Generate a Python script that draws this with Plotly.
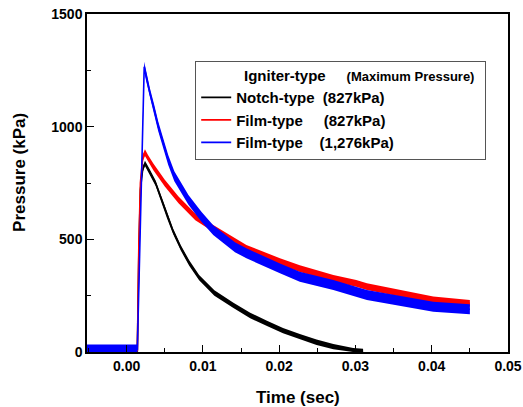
import numpy as np
import plotly.graph_objects as go

# ---- data ----
time_notch = [-0.0052, -0.003, -0.001, 0.0014, 0.0016, 0.0018, 0.0021, 0.0024, 0.0030,
              0.0038, 0.0046, 0.0053, 0.0061, 0.0071, 0.0082, 0.0095, 0.0115, 0.0140,
              0.0162, 0.0184, 0.0205, 0.0227, 0.0249, 0.0271, 0.0297, 0.0310]
notch_kpa = [5, 5, 5, 5, 450, 720, 810, 837, 800,
             749, 675, 605, 535, 462, 395, 330, 262, 207,
             162, 127, 95, 68, 43, 24, 6, 2]

time_film827 = [-0.0052, -0.003, -0.001, 0.0014, 0.0016, 0.0018, 0.0021, 0.0024, 0.0028,
                0.0035, 0.0050, 0.0068, 0.0090, 0.01135, 0.0157, 0.0201, 0.0227, 0.0271,
                0.0301, 0.0315, 0.0402, 0.0450]
film827_kpa = [8, 8, 8, 8, 480, 750, 860, 885, 859,
               822, 749, 675, 600, 549, 460, 401, 370, 327,
               305, 290, 231, 216]

time_film1276 = [-0.0052, -0.003, -0.001, 0.0014, 0.0023, 0.00257, 0.00305, 0.00362,
                 0.00415, 0.0048, 0.00545, 0.00625, 0.0070, 0.0081, 0.0098, 0.01135,
                 0.0142, 0.0157, 0.0201, 0.0227, 0.0271, 0.0301, 0.0315, 0.0402, 0.0450]
film1276_kpa = [11, 11, 11, 11, 1266, 1222, 1148, 1074,
                1000, 926, 852, 780, 735, 675, 600, 541,
                465, 438, 371, 334, 297, 268, 253, 201, 190]

# half-width of the noisy band seen around each trace (kPa)
notch_spread = 12
film827_spread = 15
film1276_spread = 22

series_names = ["Notch-type\u00a0\u00a0(827kPa)",
                "Film-type\u00a0\u00a0\u00a0\u00a0\u00a0(827kPa)",
                "Film-type\u00a0\u00a0\u00a0\u00a0(1,276kPa)"]
series_colors = ["#000000", "#ff0000", "#0000ff"]

x_ticks = [0.00, 0.01, 0.02, 0.03, 0.04, 0.05]
y_ticks = [0, 500, 1000, 1500]

FONT = "Liberation Sans, Arial, sans-serif"

fig = go.Figure()

series = [(time_notch, notch_kpa, notch_spread),
          (time_film827, film827_kpa, film827_spread),
          (time_film1276, film1276_kpa, film1276_spread)]

for (t, p, s), name, col in zip(series, series_names, series_colors):
    t = np.asarray(t, float)
    p = np.asarray(p, float)
    up = p + s
    lo = np.clip(p - s, 0, None)
    fig.add_trace(go.Scatter(
        x=np.concatenate([t, t[::-1]]), y=np.concatenate([up, lo[::-1]]),
        fill="toself", fillcolor=col, mode="lines", line=dict(width=0, color=col),
        showlegend=False, hoverinfo="skip"))
    fig.add_trace(go.Scatter(x=t, y=p, mode="lines", name=name,
                             line=dict(color=col, width=1.6)))

fig.update_layout(
    width=523, height=407,
    margin=dict(l=87, r=15, t=14, b=55, autoexpand=False),
    paper_bgcolor="white", plot_bgcolor="white",
    font=dict(family=FONT, size=14, color="black", weight="bold"),
    legend=dict(
        x=0.257, y=0.862, xanchor="left", yanchor="top",
        bgcolor="white", bordercolor="#555", borderwidth=1,
        font=dict(family=FONT, size=15, color="black", weight="bold"),
        title=dict(text="\u00a0" * 11 + "Igniter-type\u00a0\u00a0\u00a0\u00a0 <span style='font-size:13px'>(Maximum Pressure)</span>\u00a0\u00a0",
                   font=dict(family=FONT, size=15, color="black", weight="bold"),
                   side="top"),
        itemwidth=30, tracegroupgap=0,
    ),
    annotations=[
        dict(text="Pressure (kPa)", textangle=-90, xref="paper", yref="paper",
             x=-0.159, y=0.53, xanchor="center", yanchor="middle", showarrow=False,
             font=dict(family=FONT, size=17, color="black", weight="bold")),
        dict(text="Time (sec)", xref="paper", yref="paper",
             x=0.5, y=-0.136, xanchor="center", yanchor="middle", showarrow=False,
             font=dict(family=FONT, size=17, color="black", weight="bold")),
    ],
)

fig.update_xaxes(
    range=[-0.0052, 0.05], tickvals=x_ticks, tickformat=".2f", automargin=False,
    ticks="inside", ticklen=7, tickwidth=1.3, tickcolor="black",
    minor=dict(dtick=0.005, tick0=0, ticks="inside", ticklen=4, tickwidth=1.2, tickcolor="black"),
    showline=True, linecolor="black", linewidth=1.5, mirror=True,
    showgrid=False, zeroline=False, ticklabeloverflow="allow",
    tickfont=dict(family=FONT, size=14, color="black", weight="bold"),
)
fig.update_yaxes(
    range=[0, 1500], tickvals=y_ticks, tickformat="d", automargin=False,
    ticks="inside", ticklen=7, tickwidth=1.3, tickcolor="black",
    minor=dict(dtick=250, tick0=0, ticks="inside", ticklen=4, tickwidth=1.2, tickcolor="black"),
    showline=True, linecolor="black", linewidth=1.5, mirror=True,
    showgrid=False, zeroline=False, ticklabeloverflow="allow",
    tickfont=dict(family=FONT, size=14, color="black", weight="bold"),
)

fig.write_html("out.html", config={"displayModeBar": False},
               post_script="document.body.style.margin='0';document.body.style.overflow='hidden';")
